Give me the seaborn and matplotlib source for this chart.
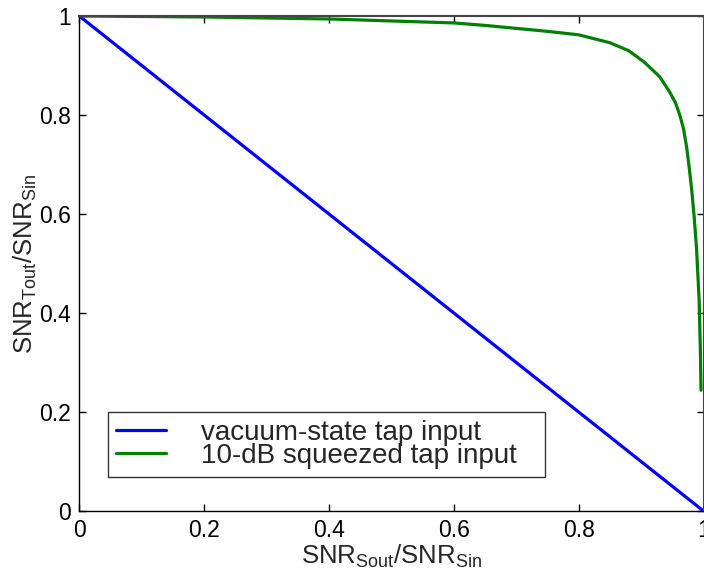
import matplotlib
matplotlib.use("Agg")
import matplotlib.pyplot as plt
import numpy as np
import pandas as pd
import seaborn as sns

# values
vac_x = [0.0, 1.0]
vac_y = [1.0, 0.0]

sq_x = [0.0, 0.1, 0.2, 0.3, 0.4, 0.5, 0.6, 0.65, 0.7, 0.75, 0.8, 0.85, 0.88,
        0.905, 0.93, 0.946, 0.955, 0.962, 0.968, 0.973, 0.977, 0.981, 0.985,
        0.989, 0.993, 0.995, 0.996]
sq_y = [1.0, 0.999, 0.998, 0.996, 0.994, 0.990, 0.986, 0.981, 0.975, 0.969, 0.962, 0.946, 0.930,
        0.907, 0.877, 0.846, 0.825, 0.800, 0.772, 0.735, 0.695, 0.650, 0.595,
        0.527, 0.426, 0.325, 0.244]

labels = ["vacuum-state tap input", "10-dB squeezed tap input"]
colors = ["#0000ff", "#008000"]
tick_vals = [0, 0.2, 0.4, 0.6, 0.8, 1]
tick_text = ["0", "0.2", "0.4", "0.6", "0.8", "1"]

df = pd.concat([
    pd.DataFrame({"x": vac_x, "y": vac_y, "series": labels[0]}),
    pd.DataFrame({"x": sq_x, "y": sq_y, "series": labels[1]}),
])

sns.set_theme(style="ticks")
plt.rcParams["font.family"] = ["Liberation Sans", "DejaVu Sans"]
plt.rcParams["mathtext.fontset"] = "custom"
plt.rcParams["mathtext.rm"] = "Liberation Sans"
plt.rcParams["mathtext.it"] = "Liberation Sans"

fig = plt.figure(figsize=(7.04, 5.81), dpi=100)
ax_w = 703.5 - 79.3
ax = fig.add_axes([79.3 / 704, 1 - 511 / 581, ax_w / 704, (511 - 16) / 581])

sns.lineplot(data=df, x="x", y="y", hue="series", palette=colors,
             linewidth=2.3, sort=False, estimator=None, ax=ax)

ax.set_xlim(0, 1)
ax.set_ylim(0, 1)
ax.set_xticks(tick_vals)
ax.set_xticklabels(tick_text)
ax.set_yticks(tick_vals)
ax.set_yticklabels(tick_text)
ax.tick_params(direction="in", length=5, width=1, top=True, right=True,
               labelsize=16.5, colors="black", pad=6)
ax.set_xlabel(r"$\mathrm{SNR_{Sout}/SNR_{Sin}}$", fontsize=18.5, labelpad=0)
ax.set_ylabel(r"$\mathrm{SNR_{Tout}/SNR_{Sin}}$", fontsize=18.5, labelpad=0)

for side in ["left", "bottom"]:
    ax.spines[side].set_color("black")
    ax.spines[side].set_linewidth(1)
for side in ["top", "right"]:
    ax.spines[side].set_color("#444444")
    ax.spines[side].set_linewidth(1.5)

leg = ax.legend(loc="lower left",
                bbox_to_anchor=((108 - 79.3) / ax_w, (511 - 477) / 495,
                                (545 - 108) / ax_w, 0.14),
                mode="expand", borderaxespad=0,
                fontsize=20, frameon=True, fancybox=False, edgecolor="#333333",
                framealpha=1, handlelength=1.8, handletextpad=1.25,
                labelspacing=-0.12, borderpad=0.3, title=None)
leg.get_frame().set_linewidth(1)

fig.savefig("out.png", dpi=100)
